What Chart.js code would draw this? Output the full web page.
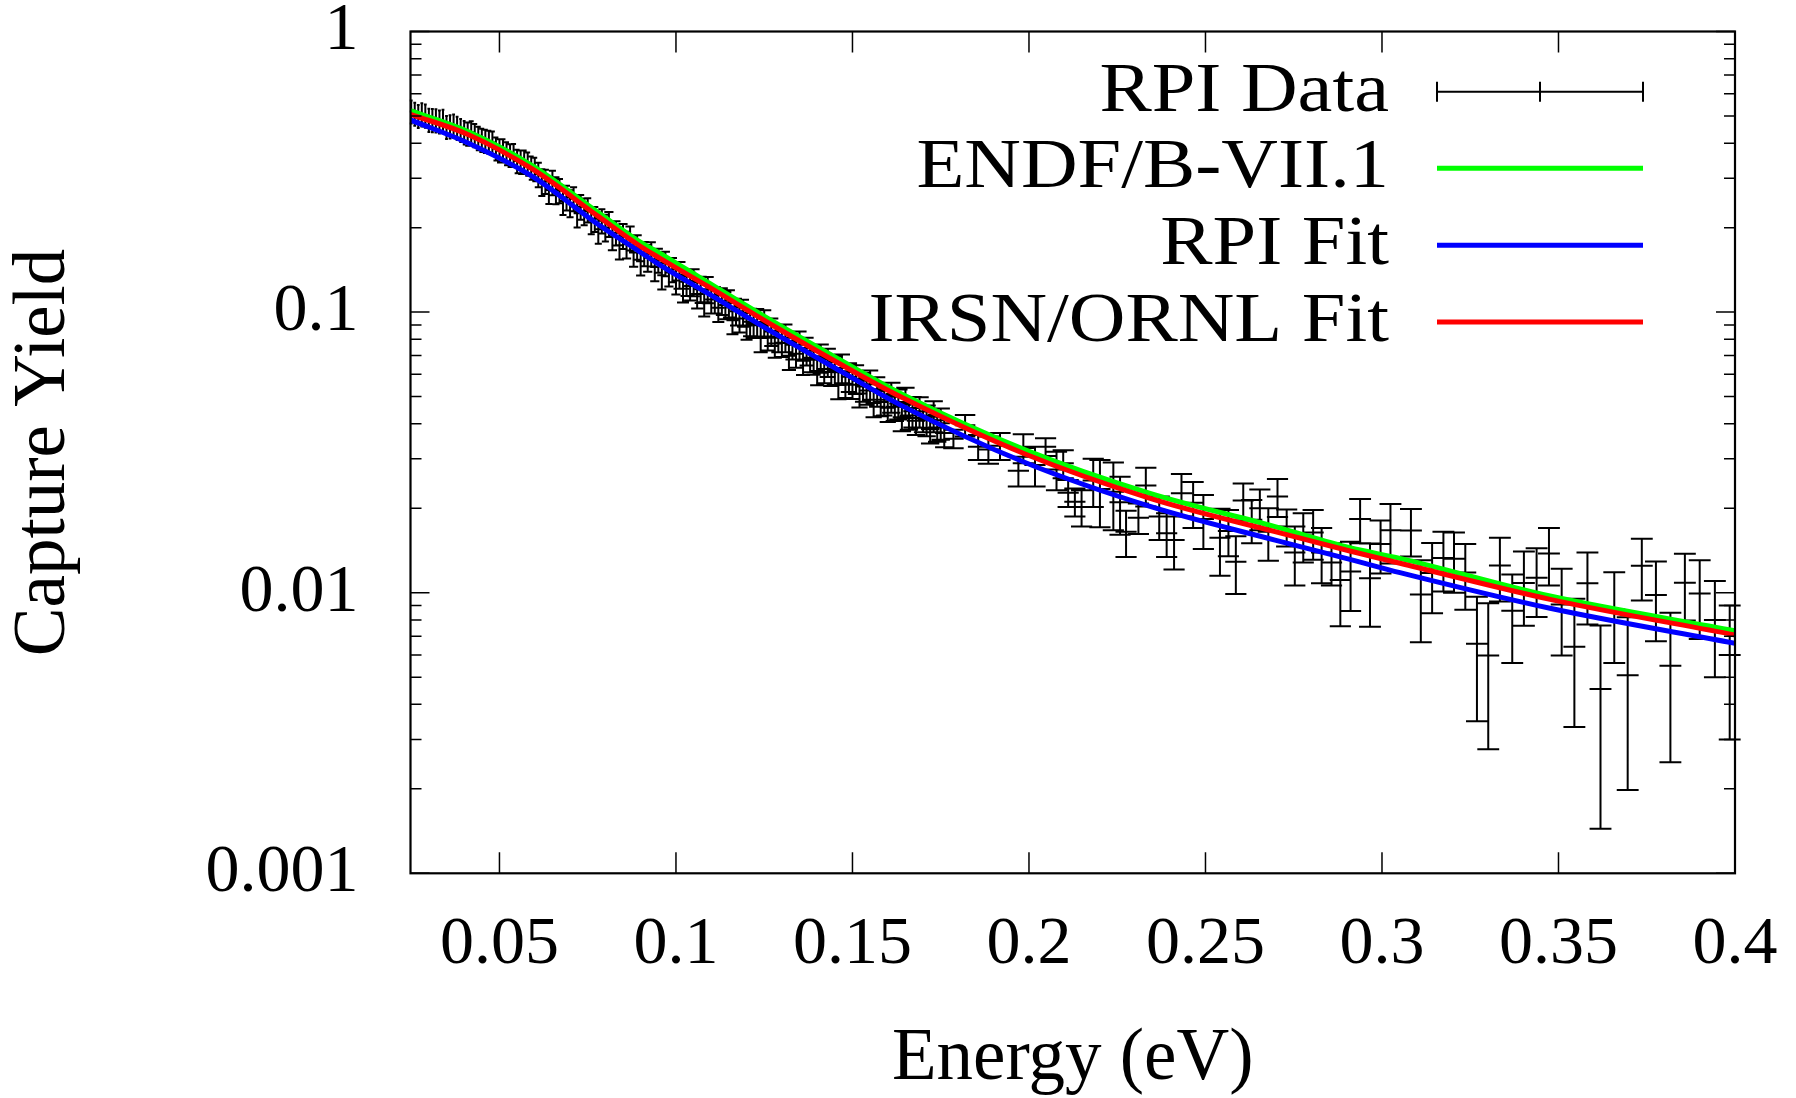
<!DOCTYPE html>
<html>
<head>
<meta charset="utf-8">
<script src="https://cdn.jsdelivr.net/npm/chart.js@4.4.1/dist/chart.umd.min.js"></script>
<style>
html,body{margin:0;padding:0;background:#ffffff;}
canvas{display:block;}
</style>
</head>
<body>
<canvas id="chart" width="1796" height="1098"></canvas>
<script>
// ---------------- data ----------------
const seriesLabels = ['RPI Data', 'ENDF/B-VII.1', 'RPI Fit', 'IRSN/ORNL Fit'];

// RPI measured capture yield (energy in eV)
const dataEnergy = [
  0.025,0.027,0.029,0.031,0.033,0.035,0.037,0.039,0.041,0.043,
  0.045,0.047,0.049,0.051,0.053,0.055,0.057,0.059,0.061,0.063,
  0.065,0.067,0.069,0.071,0.073,0.075,0.077,0.079,0.081,0.083,
  0.085,0.087,0.089,0.091,0.093,0.095,0.097,0.099,0.101,0.103,
  0.105,0.107,0.109,0.111,0.113,0.115,0.117,0.119,0.121,0.123,
  0.125,0.127,0.129,0.131,0.133,0.135,0.137,0.139,0.141,0.143,
  0.145,0.147,0.149,0.151,0.153,0.155,0.157,0.159,0.161,0.163,
  0.165,0.167,0.169,0.171,0.173,0.175,
  0.026,0.028,0.030,0.032,0.034,0.036,0.038,0.040,0.042,0.044,
  0.046,0.048,0.050,0.052,0.054,0.056,0.058,0.060,
  0.062,0.064,0.066,0.068,0.070,0.072,0.074,0.076,0.078,0.080,
  0.082,0.084,0.086,0.088,0.090,0.092,0.094,0.096,0.098,0.100,
  0.102,0.104,0.106,0.108,0.110,0.112,0.114,0.116,0.118,0.120,
  0.122,0.124,0.126,0.128,0.130,0.132,0.134,0.136,0.138,0.140,
  0.142,0.144,0.146,0.148,0.150,0.152,0.154,0.156,0.158,0.160,
  0.162,0.164,0.166,0.168,0.170,0.172,0.174,0.176,
  0.1786,0.1819,0.1856,0.1885,0.1918,0.1970,0.1984,0.2017,0.2047,0.2078,
  0.2097,0.2111,0.2130,0.2149,0.2182,0.2201,0.2239,0.2258,0.2275,0.2310,
  0.2331,0.2369,0.2390,0.2411,0.2432,0.2465,0.2494,0.2541,0.2565,0.2586,
  0.2607,0.2631,0.2654,0.2678,0.2704,0.2730,0.2753,0.2777,0.2805,0.2829,
  0.2857,0.2882,0.2911,
  0.2938,0.2966,0.2996,0.3024,0.3082,0.3110,0.3142,0.3174,0.3204,0.3236,
  0.3269,0.3301,0.3334,0.3369,0.3402,0.3438,0.3473,0.3509,0.3545,0.3582,
  0.3619,0.3658,0.3696,0.3736,0.3776,0.3817,0.3858,0.3900,0.3943,0.3985
];
const dataYield = [
  0.5186,0.4998,0.5018,0.4836,0.4776,0.4566,0.4622,0.4455,0.4329,0.4275,
  0.4108,0.4048,0.3829,0.3773,0.3627,0.3458,0.3436,0.3275,0.3097,0.2923,
  0.2898,0.2713,0.2560,0.2537,0.2375,0.2316,0.2150,0.2115,0.2062,0.1916,
  0.1869,0.1839,0.1708,0.1618,0.1613,0.1532,0.1492,0.1418,0.1360,0.1282,
  0.1280,0.1207,0.1205,0.1108,0.1097,0.1077,0.1006,0.0996,0.0924,0.0922,
  0.0913,0.0853,0.0811,0.0811,0.0765,0.0765,0.0728,0.0676,0.0687,0.0664,
  0.0622,0.0632,0.0588,0.0579,0.0543,0.0553,0.0523,0.0487,0.0499,0.0472,
  0.0478,0.0443,0.0442,0.0413,0.0427,0.0402,
  0.5090,0.5069,0.4847,0.4826,0.4805,0.4593,0.4537,0.4373,0.4372,0.4174,
  0.4079,0.4019,0.3770,0.3684,0.3630,0.3433,0.3383,0.3237,
  0.2912,0.2726,0.2725,0.2488,0.2446,0.2252,0.2288,0.2125,0.1972,0.2004,
  0.1862,0.1730,0.1744,0.1632,0.1519,0.1563,0.1449,0.1353,0.1385,0.1295,
  0.1211,0.1240,0.1160,0.1084,0.1109,0.1036,0.1060,0.0936,0.0949,0.0895,
  0.0908,0.0808,0.0819,0.0773,0.0778,0.0699,0.0711,0.0671,0.0687,0.0617,
  0.0627,0.0612,0.0550,0.0555,0.0551,0.0513,0.0526,0.0474,0.0478,0.0456,
  0.0460,0.0422,0.0428,0.0410,0.0419,0.0382,0.0388,0.0371,
  0.0354,0.0395,0.0331,0.0324,0.0334,0.0272,0.0328,0.0285,0.0331,0.0275,
  0.0289,0.0227,0.0211,0.0202,0.0251,0.0234,0.0229,0.0210,0.0165,0.0185,
  0.0241,0.0187,0.0163,0.0154,0.0226,0.0209,0.0183,0.0157,0.0166,0.0129,
  0.0213,0.0182,0.0200,0.0165,0.0220,0.0172,0.0139,0.0160,0.0164,0.0139,
  0.0128,0.0111,0.0119,
  0.01829,0.01126,0.0149,0.0167,0.01666,0.00986,0.01175,0.0133,0.0132,0.0118,
  0.00658,0.00597,0.0125,0.00862,0.01082,0.0113,0.0138,0.00907,0.00642,0.0108,
  0.00454,0.00872,0.00508,0.01248,0.00982,0.00549,0.01086,0.00994,0.0080,0.0060
];
const dataYieldErr = [
  0.049,0.047,0.048,0.046,0.045,0.043,0.044,0.042,0.041,0.041,
  0.039,0.038,0.036,0.036,0.034,0.033,0.033,0.031,0.031,0.029,
  0.029,0.027,0.026,0.025,0.024,0.023,0.022,0.021,0.021,0.019,
  0.019,0.018,0.017,0.016,0.016,0.015,0.015,0.014,0.015,0.014,
  0.014,0.013,0.013,0.012,0.012,0.012,0.011,0.011,0.0103,0.0103,
  0.0102,0.0096,0.0091,0.0092,0.0087,0.0087,0.0083,0.0078,0.0079,0.0077,
  0.0072,0.0074,0.0069,0.0068,0.0064,0.0066,0.0063,0.0059,0.0061,0.0058,
  0.0059,0.0055,0.0055,0.0052,0.0054,0.0051,
  0.048,0.048,0.046,0.046,0.046,0.044,0.043,0.042,0.042,0.040,
  0.039,0.038,0.036,0.035,0.034,0.033,0.032,0.031,
  0.032,0.030,0.030,0.027,0.027,0.025,0.025,0.023,0.022,0.022,
  0.020,0.019,0.019,0.018,0.017,0.017,0.016,0.015,0.015,0.014,
  0.013,0.014,0.013,0.012,0.012,0.0114,0.0117,0.0103,0.0104,0.0098,
  0.0100,0.0089,0.0090,0.0085,0.0086,0.0077,0.0078,0.0074,0.0076,0.0068,
  0.0069,0.0067,0.0061,0.0061,0.0061,0.0056,0.0058,0.0052,0.0053,0.0050,
  0.0051,0.0046,0.0047,0.0045,0.0046,0.0042,0.0043,0.0041,
  0.0027,0.0035,0.0034,0.0036,0.0037,0.0033,0.0039,0.0046,0.0024,0.0043,
  0.0033,0.0025,0.0024,0.0030,0.0049,0.0063,0.0062,0.0049,0.0031,0.0023,
  0.0038,0.0033,0.0029,0.0033,0.0039,0.0039,0.0040,0.0042,0.0031,0.0030,
  0.0032,0.0032,0.0033,0.0035,0.0034,0.0026,0.0033,0.0032,0.0033,0.0031,
  0.0022,0.0035,0.0033,
  0.0033,0.0037,0.0032,0.0040,0.0032,0.0032,0.0033,0.0032,0.0032,0.0031,
  0.0031,0.0032,0.0032,0.0030,0.0032,0.0031,0.0032,0.0031,0.0031,0.0031,
  0.0031,0.0031,0.0031,0.0031,0.0031,0.0030,0.0029,0.0031,0.0030,0.0030
];
const dataEnergyErr = [
  0.0004,0.0004,0.0004,0.0004,0.0004,0.0004,0.0004,0.0004,0.0007,0.0007,
  0.0007,0.0007,0.0007,0.0007,0.0007,0.0007,0.0007,0.0007,0.0010,0.0010,
  0.0010,0.0010,0.0010,0.0010,0.0010,0.0010,0.0010,0.0010,0.0013,0.0013,
  0.0013,0.0013,0.0013,0.0013,0.0013,0.0013,0.0013,0.0013,0.0017,0.0017,
  0.0017,0.0017,0.0017,0.0017,0.0017,0.0017,0.0017,0.0017,0.0020,0.0020,
  0.0020,0.0020,0.0020,0.0020,0.0020,0.0020,0.0020,0.0020,0.0023,0.0023,
  0.0023,0.0023,0.0023,0.0023,0.0023,0.0023,0.0023,0.0023,0.0026,0.0026,
  0.0026,0.0026,0.0026,0.0026,0.0026,0.0026,
  0.0004,0.0004,0.0004,0.0004,0.0004,0.0004,0.0004,0.0004,0.0007,0.0007,
  0.0007,0.0007,0.0007,0.0007,0.0007,0.0007,0.0007,0.0007,
  0.0010,0.0010,0.0010,0.0010,0.0010,0.0010,0.0010,0.0010,0.0010,0.0010,
  0.0013,0.0013,0.0013,0.0013,0.0013,0.0013,0.0013,0.0013,0.0013,0.0013,
  0.0017,0.0017,0.0017,0.0017,0.0017,0.0017,0.0017,0.0017,0.0017,0.0017,
  0.0020,0.0020,0.0020,0.0020,0.0020,0.0020,0.0020,0.0020,0.0020,0.0020,
  0.0023,0.0023,0.0023,0.0023,0.0023,0.0023,0.0023,0.0023,0.0023,0.0023,
  0.0026,0.0026,0.0026,0.0026,0.0026,0.0026,0.0026,0.0026,
  0.0029,0.0029,0.0029,0.0030,0.0030,0.0030,0.0030,0.0030,0.0030,0.0030,
  0.0030,0.0030,0.0030,0.0030,0.0030,0.0030,0.0030,0.0030,0.0030,0.0030,
  0.0030,0.0030,0.0030,0.0030,0.0030,0.0030,0.0030,0.0030,0.0030,0.0030,
  0.0030,0.0030,0.0030,0.0030,0.0030,0.0030,0.0030,0.0030,0.0030,0.0030,
  0.0030,0.0030,0.0030,
  0.0031,0.0031,0.0031,0.0031,0.0031,0.0031,0.0031,0.0031,0.0031,0.0031,
  0.0031,0.0031,0.0031,0.0031,0.0031,0.0031,0.0031,0.0031,0.0031,0.0031,
  0.0031,0.0031,0.0031,0.0031,0.0031,0.0031,0.0031,0.0031,0.0031,0.0031
];

// evaluated curves
const curveEnergy = [0.0248,0.0414,0.0594,0.0783,0.0898,0.0955,0.1087,0.1276,0.1465,0.1635,0.1989,0.2343,0.2697,0.2909,0.3051,0.3476,0.4];
const endfYield   = [0.522,0.438,0.332,0.225,0.178,0.162,0.1283,0.0924,0.0675,0.0514,0.0323,0.0226,0.0172,0.01446,0.01326,0.00973,0.00732];
const rpiFitYield = [0.484,0.399,0.304,0.204,0.164,0.147,0.1173,0.0845,0.0617,0.0467,0.0291,0.0203,0.0154,0.01315,0.01179,0.0088,0.0066];
const irsnYield   = [0.507,0.428,0.323,0.218,0.172,0.1555,0.1242,0.0894,0.0653,0.0500,0.0312,0.0217,0.0165,0.01408,0.01273,0.00947,0.00707];

// axes
const xTickValues = [0.05,0.1,0.15,0.2,0.25,0.3,0.35,0.4];
const xTickLabels = ['0.05','0.1','0.15','0.2','0.25','0.3','0.35','0.4'];
const yTickValues = [0.001,0.01,0.1,1];
const yTickLabels = ['0.001','0.01','0.1','1'];
const xMin = 0.0248, xMax = 0.4, yMin = 0.001, yMax = 1;

// ---------------- styling ----------------
const SERIF = '"Liberation Serif", "Times New Roman", serif';
const COLORS = {data:'#000000', endf:'#00ff00', rpi:'#0000ff', irsn:'#ff0000'};
const CURVE_W = 5;

const toXY = (xs, ys) => xs.map((x, i) => ({x: x, y: ys[i]}));

// error bars drawn through the library scales
const errorBarPlugin = {
  id: 'errorBars',
  beforeDatasetsDraw(chart) {
    const ctx = chart.ctx, xs = chart.scales.x, ys = chart.scales.y;
    chart.data.datasets.forEach(ds => {
      if (!ds.yErr) return;
      ctx.save();
      ctx.strokeStyle = '#000';
      ctx.lineWidth = 2;
      ctx.lineCap = 'butt';
      ctx.beginPath();
      ds.data.forEach((p, j) => {
        const px = xs.getPixelForValue(p.x);
        const py = ys.getPixelForValue(p.y);
        const pt = ys.getPixelForValue(p.y + ds.yErr[j]);
        const pb = ys.getPixelForValue(p.y - ds.yErr[j]);
        const pl = xs.getPixelForValue(p.x - ds.xErr[j]);
        const pr = xs.getPixelForValue(p.x + ds.xErr[j]);
        ctx.moveTo(px, pt); ctx.lineTo(px, pb);
        ctx.moveTo(pl, py); ctx.lineTo(pr, py);
        ctx.moveTo(pl, pt); ctx.lineTo(pr, pt);
        ctx.moveTo(pl, pb); ctx.lineTo(pr, pb);
      });
      ctx.stroke();
      ctx.restore();
    });
  }
};

// frame with inward ticks on all four sides (gnuplot style)
const framePlugin = {
  id: 'frame',
  afterDatasetsDraw(chart) {
    const ctx = chart.ctx, xs = chart.scales.x, ys = chart.scales.y;
    const {left, right, top, bottom} = chart.chartArea;
    ctx.save();
    ctx.strokeStyle = '#000';
    ctx.lineWidth = 1.5;
    ctx.beginPath();
    xTickValues.forEach(v => {
      const px = xs.getPixelForValue(v);
      ctx.moveTo(px, bottom); ctx.lineTo(px, bottom - 21);
      ctx.moveTo(px, top); ctx.lineTo(px, top + 21);
    });
    yTickValues.forEach(v => {
      const py = ys.getPixelForValue(v);
      ctx.moveTo(left, py); ctx.lineTo(left + 19, py);
      ctx.moveTo(right, py); ctx.lineTo(right - 19, py);
    });
    for (let d = 0; d < yTickValues.length - 1; d++) {
      for (let m = 2; m <= 9; m++) {
        const py = ys.getPixelForValue(yTickValues[d] * m);
        ctx.moveTo(left, py); ctx.lineTo(left + 11, py);
        ctx.moveTo(right, py); ctx.lineTo(right - 11, py);
      }
    }
    ctx.stroke();
    ctx.lineWidth = 2.2;
    ctx.strokeRect(left, top, right - left, bottom - top);
    ctx.restore();
  }
};

// key in the upper right, text right-aligned, sample to the right
const keyPlugin = {
  id: 'key',
  afterDraw(chart) {
    const ctx = chart.ctx;
    const rowsY = [91.7, 168.3, 245.3, 322];
    const textRight = 1389, s0 = 1437, s1 = 1643;
    ctx.save();
    chart.data.datasets.forEach((ds, i) => {
      const y = rowsY[i];
      ctx.save();
      ctx.translate(textRight, y + 19);
      ctx.scale(1.12, 1);
      ctx.font = '70px ' + SERIF;
      ctx.fillStyle = '#000';
      ctx.textAlign = 'right';
      ctx.textBaseline = 'alphabetic';
      ctx.fillText(ds.label, 0, 0);
      ctx.restore();
      ctx.beginPath();
      if (ds.yErr) {
        ctx.strokeStyle = '#000';
        ctx.lineWidth = 2;
        const mid = (s0 + s1) / 2;
        ctx.moveTo(s0, y); ctx.lineTo(s1, y);
        [s0, mid, s1].forEach(x => { ctx.moveTo(x, y - 10); ctx.lineTo(x, y + 10); });
      } else {
        ctx.strokeStyle = ds.borderColor;
        ctx.lineWidth = ds.borderWidth;
        ctx.moveTo(s0, y); ctx.lineTo(s1, y);
      }
      ctx.stroke();
    });
    ctx.restore();
  }
};

new Chart(document.getElementById('chart'), {
  type: 'line',
  data: {
    datasets: [
      {
        label: seriesLabels[0],
        data: toXY(dataEnergy, dataYield),
        yErr: dataYieldErr,
        xErr: dataEnergyErr,
        showLine: false,
        pointRadius: 0,
        borderColor: COLORS.data,
        order: 3
      },
      {
        label: seriesLabels[1],
        data: toXY(curveEnergy, endfYield),
        borderColor: COLORS.endf,
        borderWidth: CURVE_W,
        pointRadius: 0,
        fill: false,
        cubicInterpolationMode: 'monotone',
        order: 2
      },
      {
        label: seriesLabels[2],
        data: toXY(curveEnergy, rpiFitYield),
        borderColor: COLORS.rpi,
        borderWidth: CURVE_W,
        pointRadius: 0,
        fill: false,
        cubicInterpolationMode: 'monotone',
        order: 1
      },
      {
        label: seriesLabels[3],
        data: toXY(curveEnergy, irsnYield),
        borderColor: COLORS.irsn,
        borderWidth: CURVE_W,
        pointRadius: 0,
        fill: false,
        cubicInterpolationMode: 'monotone',
        order: 0
      }
    ]
  },
  options: {
    responsive: false,
    animation: false,
    devicePixelRatio: 1,
    layout: {padding: {top: 31.5, right: 61, bottom: 0, left: 0}},
    plugins: {
      legend: {display: false},
      tooltip: {enabled: false}
    },
    scales: {
      x: {
        type: 'linear',
        min: xMin,
        max: xMax,
        afterBuildTicks: s => { s.ticks = xTickValues.map(v => ({value: v})); },
        afterFit: s => { s.height = 1098 - 873.3; s.paddingLeft = 0; s.paddingRight = 0; },
        grid: {display: false, drawTicks: false},
        border: {display: false},
        ticks: {
          autoSkip: false, maxRotation: 0, minRotation: 0,
          padding: 31,
          color: '#000',
          font: {family: SERIF, size: 68},
          callback: (v, i) => xTickLabels[i]
        },
        title: {
          display: true, text: 'Energy (eV)', color: '#000',
          font: {family: SERIF, size: 73, lineHeight: 1.05},
          padding: {top: 0, bottom: 0}
        }
      },
      y: {
        type: 'logarithmic',
        min: yMin,
        max: yMax,
        afterBuildTicks: s => { s.ticks = yTickValues.map(v => ({value: v})); },
        afterFit: s => { s.width = 410.5; s.paddingTop = 0; s.paddingBottom = 0; },
        grid: {display: false, drawTicks: false},
        border: {display: false},
        ticks: {
          autoSkip: false,
          padding: 52,
          color: '#000',
          font: {family: SERIF, size: 68},
          callback: (v, i) => yTickLabels[i]
        },
        title: {
          display: true, text: 'Capture Yield', color: '#000',
          font: {family: SERIF, size: 73, lineHeight: 1.05},
          padding: {top: 7, bottom: 0}
        }
      }
    }
  },
  plugins: [errorBarPlugin, framePlugin, keyPlugin]
});
</script>
</body>
</html>
